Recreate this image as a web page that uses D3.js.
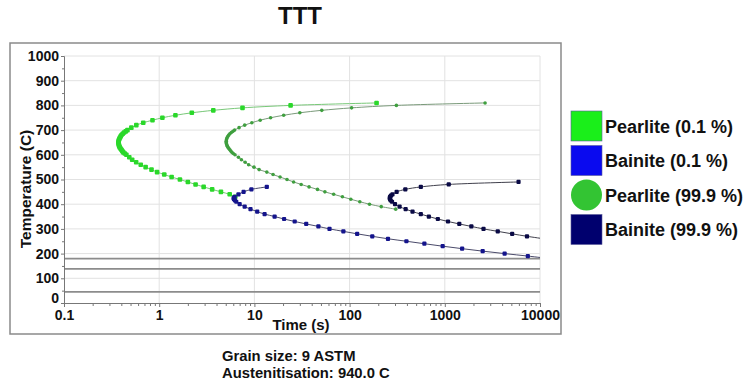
<!DOCTYPE html>
<html><head><meta charset="utf-8">
<script src="https://cdn.jsdelivr.net/npm/d3@7"></script>
<style>
html,body{margin:0;padding:0;background:#fff;}
svg{display:block;font-family:Arial,"Liberation Sans",sans-serif;}
</style></head>
<body>
<svg id="chart" width="744" height="387"></svg>
<script>
// ---- data ----
const pearlite01Temp = [810,800,790,780,770,760,750,740,730,720,710,700,695,690,685,680,675,670,665,660,655,650,645,640,635,630,625,620,615,610,605,600,590,580,570,560,550,540,530,520,510,500,490,480,470,460,450,440,430];
const pearlite01Time = [192,24,7.5,3.7,2.2,1.48,1.08,0.85,0.68,0.575,0.51,0.464,0.445,0.428,0.414,0.402,0.394,0.388,0.382,0.377,0.374,0.373,0.374,0.377,0.38,0.385,0.393,0.402,0.41,0.42,0.435,0.452,0.485,0.52,0.573,0.64,0.72,0.83,0.95,1.13,1.35,1.65,2.0,2.41,2.93,3.6,4.45,5.5,6.3];

const bainite01Temp = [470,460,450,440,430,425,420,415,410,400,390,380,370,360,350,340,330,320,310,300,290,280,270,260,250,240,230,220,210,200,190,180];
const bainite01Time = [13.5,9.3,7.7,6.8,6.2,6.05,6.1,6.25,6.45,7.0,7.9,9.1,10.7,12.8,16.3,20.5,26.5,35,47,61.5,86,120,173,253,395,610,950,1520,2500,4250,7450,12500];

const pearlite999Temp = [810,800,790,780,770,760,750,740,730,720,710,700,695,690,685,680,675,670,665,660,655,650,645,640,635,630,625,620,615,610,605,600,590,580,570,560,550,540,530,520,510,500,490,480,470,460,450,440,430,420,410,400,390,380];
const pearlite999Time = [2650,310,105,51,30,20.3,14.8,11.5,9.4,7.9,6.9,6.2,5.95,5.72,5.52,5.38,5.26,5.18,5.12,5.08,5.06,5.06,5.08,5.13,5.2,5.28,5.4,5.52,5.65,5.8,6.0,6.25,6.8,7.3,8.0,8.7,9.9,11.2,13.5,15.7,18.6,22,25.8,31,37.5,46,55,68,84,103,128,162,215,305];

const bainite999Temp = [490,480,470,460,450,440,435,430,425,420,415,410,400,390,380,370,360,350,340,330,320,310,300,290,280,270,260];
const bainite999Time = [5950,1100,560,385,312,282,272,266,264,266,270,279,300,335,388,458,560,680,845,1080,1420,1900,2550,3600,5100,7300,11000];

const martensiteTemps = [180,138,45];

const xTicks = [0.1,1,10,100,1000,10000];
const yTicks = [0,100,200,300,400,500,600,700,800,900,1000];

const seriesNames = ["Pearlite (0.1 %)","Bainite (0.1 %)","Pearlite (99.9 %)","Bainite (99.9 %)"];
const infoLines = ["Grain size: 9 ASTM","Austenitisation: 940.0 C"];

// ---- layout ----
const svg = d3.select("#chart");
const L = 64, R = 540, T = 56, B = 303;
const x = d3.scaleLog().domain([0.1,10000]).range([L,R]);
const y = d3.scaleLinear().domain([0,1000]).range([B,T]);

// outer frame
svg.append("rect").attr("x",10).attr("y",43).attr("width",551).attr("height",291)
  .attr("fill","none").attr("stroke","#8a8a8a").attr("stroke-width",1.5);

// title
svg.append("text").attr("x",300).attr("y",24).attr("text-anchor","middle")
  .attr("font-size",24).attr("font-weight","bold").attr("fill","#111").text("TTT");

// gridlines
const grid = svg.append("g");
grid.selectAll("line.v").data(xTicks.slice(1)).join("line")
  .attr("x1",d=>x(d)).attr("x2",d=>x(d)).attr("y1",T).attr("y2",B)
  .attr("stroke","#e2e2e2").attr("stroke-width",1);
grid.selectAll("line.h").data(yTicks.slice(1)).join("line")
  .attr("x1",L).attr("x2",R).attr("y1",d=>y(d)).attr("y2",d=>y(d))
  .attr("stroke","#e2e2e2").attr("stroke-width",1);

// martensite lines
svg.append("g").selectAll("line").data(martensiteTemps).join("line")
  .attr("x1",L).attr("x2",R).attr("y1",d=>y(d)).attr("y2",d=>y(d))
  .attr("stroke","#8c8c8c").attr("stroke-width",1.8);

// axes
const minorX = [];
for (let e=-1;e<4;e++) for (let k=2;k<10;k++) minorX.push(k*Math.pow(10,e));
const xAxisMinor = svg.append("g").attr("transform",`translate(0,${B})`)
  .call(d3.axisBottom(x).tickValues(minorX).tickSize(3).tickFormat(""));
xAxisMinor.select(".domain").remove();
xAxisMinor.selectAll("line").attr("stroke","#777");
const xAxis = svg.append("g").attr("transform",`translate(0,${B})`)
  .call(d3.axisBottom(x).tickValues(xTicks).tickSize(4).tickPadding(3)
    .tickFormat(d=>String(d)));
xAxis.select(".domain").attr("stroke","#777");
xAxis.selectAll("line").attr("stroke","#777");
xAxis.selectAll("text").attr("font-size",14).attr("font-weight","bold").attr("fill","#111")
  .attr("font-family","Arial, 'Liberation Sans', sans-serif");

const minorY = d3.range(50,1000,100);
const yAxisMinor = svg.append("g").attr("transform",`translate(${L},0)`)
  .call(d3.axisLeft(y).tickValues(minorY).tickSize(2).tickFormat(""));
yAxisMinor.select(".domain").remove();
yAxisMinor.selectAll("line").attr("stroke","#777");
const yAxis = svg.append("g").attr("transform",`translate(${L},0)`)
  .call(d3.axisLeft(y).tickValues(yTicks).tickSize(3).tickPadding(2).tickFormat(d3.format("d")));
yAxis.select(".domain").attr("stroke","#777");
yAxis.selectAll("line").attr("stroke","#777");
yAxis.selectAll("text").attr("font-size",14).attr("font-weight","bold").attr("fill","#111")
  .attr("font-family","Arial, 'Liberation Sans', sans-serif");
// lift the "0" label slightly so it clears the "0.1" label
yAxis.selectAll(".tick").filter(d=>d===0).select("text").attr("dy","-0.05em");

// axis titles
svg.append("text").attr("x",301).attr("y",330).attr("text-anchor","middle")
  .attr("font-size",15).attr("font-weight","bold").attr("fill","#111").text("Time (s)");
svg.append("text").attr("transform","translate(31,189) rotate(-90)").attr("text-anchor","middle")
  .attr("font-size",15.5).attr("font-weight","bold").attr("fill","#111").text("Temperature (C)");

// clip
svg.append("clipPath").attr("id","plotclip").append("rect")
  .attr("x",L).attr("y",T-10).attr("width",R-L).attr("height",B-T+10);

const series = [
  {temp:pearlite01Temp, time:pearlite01Time, line:"#78c878", fill:"#2ad82a", shape:"sq", size:4.6},
  {temp:bainite01Temp, time:bainite01Time, line:"#4a4a6a", fill:"#14148c", shape:"sq", size:4.2},
  {temp:pearlite999Temp, time:pearlite999Time, line:"#7a9a7a", fill:"#3f9f3f", shape:"ci", size:3.6},
  {temp:bainite999Temp, time:bainite999Time, line:"#40404c", fill:"#0a0a45", shape:"sq", size:4.2}
];

const plot = svg.append("g").attr("clip-path","url(#plotclip)");
const lineGen = d3.line().x(d=>x(d[0])).y(d=>y(d[1])).curve(d3.curveCatmullRom);
series.forEach(s=>{
  const pts = s.time.map((t,i)=>[t,s.temp[i]]);
  plot.append("path").datum(pts).attr("d",lineGen)
    .attr("fill","none").attr("stroke",s.line).attr("stroke-width",1);
});
series.forEach(s=>{
  const pts = s.time.map((t,i)=>[t,s.temp[i]]);
  const g = plot.append("g");
  if (s.shape==="sq") {
    g.selectAll("rect").data(pts).join("rect")
      .attr("x",d=>x(d[0])-s.size/2).attr("y",d=>y(d[1])-s.size/2)
      .attr("width",s.size).attr("height",s.size).attr("rx",1)
      .attr("fill",s.fill);
  } else {
    g.selectAll("circle").data(pts).join("circle")
      .attr("cx",d=>x(d[0])).attr("cy",d=>y(d[1])).attr("r",s.size/2)
      .attr("fill",s.fill);
  }
});

// legend
const legendColors = ["#1aef1a","#0a0aef","#33c433","#00006e"];
const lg = svg.append("g");
seriesNames.forEach((name,i)=>{
  const cy = 126 + i*34.5;
  if (i===2) {
    lg.append("circle").attr("cx",586.5).attr("cy",cy).attr("r",15.5).attr("fill",legendColors[i]);
  } else {
    lg.append("rect").attr("x",571).attr("y",cy-15).attr("width",31).attr("height",30)
      .attr("fill",legendColors[i]).attr("stroke","#5a5a9a").attr("stroke-width",0.6);
  }
  lg.append("text").attr("x",605).attr("y",cy+6.5).attr("font-size",18).attr("font-weight","bold")
    .attr("fill","#111").text(name);
});

// info text
infoLines.forEach((t,i)=>{
  svg.append("text").attr("x",222).attr("y",361+i*17).attr("font-size",14.8).attr("font-weight","bold")
    .attr("fill","#111").text(t);
});
</script>
</body></html>
